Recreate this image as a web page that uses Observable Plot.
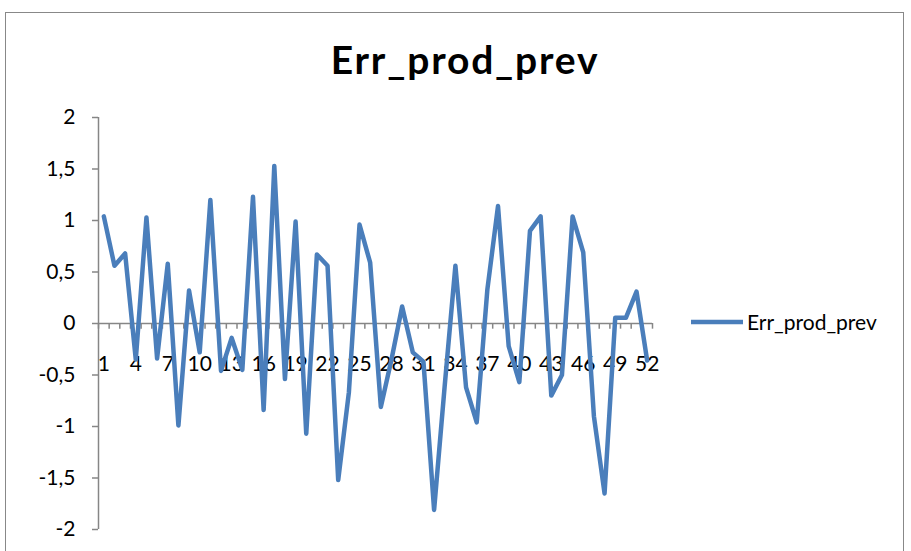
<!DOCTYPE html>
<html><head><meta charset="utf-8">
<script src="https://cdn.jsdelivr.net/npm/d3@7"></script>
<script src="https://cdn.jsdelivr.net/npm/@observablehq/plot@0.6"></script>
<style>
body{margin:0;background:#fff;font-family:Lato,"Open Sans",sans-serif;}
#frame{position:absolute;left:5px;top:12px;width:899px;height:545px;border:1.5px solid #888;box-sizing:border-box;}
#title{position:absolute;left:0;top:36px;width:930px;text-align:center;font-size:39px;letter-spacing:1.8px;font-weight:bold;color:#000;}
#chart{position:absolute;left:0;top:100px;}
#legend{position:absolute;left:690px;top:309px;font-size:21px;color:#000;display:flex;align-items:center;}
</style></head>
<body>
<div id="frame"></div>
<div id="title">Err_prod_prev</div>
<div id="chart"></div>
<div id="legend"><svg width="57" height="10"><line x1="1" y1="5" x2="53" y2="5" stroke="#4a7ebb" stroke-width="4.5"/></svg><span>Err_prod_prev</span></div>
<script>
const weeks = d3.range(1, 53);
const values = [1.04,0.56,0.68,-0.35,1.03,-0.34,0.58,-0.99,0.32,-0.28,
  1.2,-0.46,-0.14,-0.45,1.23,-0.84,1.53,-0.54,0.99,-1.07,
  0.67,0.56,-1.52,-0.67,0.96,0.59,-0.81,-0.35,0.165,-0.28,
  -0.37,-1.81,-0.6,0.56,-0.62,-0.96,0.33,1.14,-0.22,-0.57,
  0.9,1.04,-0.7,-0.5,1.04,0.69,-0.9,-1.65,0.055,0.055,
  0.31,-0.36];
const yTicks = [-2,-1.5,-1,-0.5,0,0.5,1,1.5,2];
const xLabels = weeks.filter(w => (w - 1) % 3 === 0);
const boundaries = d3.range(0.5, 53, 1);
const data = weeks.map((w, i) => ({week: w, value: values[i]}));

const axisColor = "#868686";
const fmt = d => String(d).replace(".", ",");
const chart = Plot.plot({
  width: 911,
  height: 440,
  marginLeft: 98,
  marginRight: 259,
  marginTop: 17,
  marginBottom: 11,
  style: {fontFamily: "Lato, 'Open Sans', sans-serif", fontSize: "21px", color: "#000", background: "transparent", overflow: "visible"},
  x: {domain: [0.5, 52.5], axis: null},
  y: {domain: [-2, 2], axis: null},
  marks: [
    Plot.axisY({ticks: yTicks, tickFormat: fmt, tickSize: 6, tickPadding: 17, label: null, stroke: axisColor, strokeWidth: 1.5, fontSize: 21}),
    Plot.ruleX([0.5], {stroke: axisColor, strokeWidth: 1.5}),
    Plot.ruleX(boundaries, {x: d => d, y1: 0, y2: -0.055, stroke: axisColor, strokeWidth: 1.5}),
    Plot.ruleY([0], {stroke: axisColor, strokeWidth: 1.5}),
    Plot.text(xLabels, {x: d => d, y: 0, text: d => String(d), dy: 41, fontSize: 21, fill: "#000"}),
    Plot.line(data, {x: "week", y: "value", stroke: "#4a7ebb", strokeWidth: 4.5, strokeLinejoin: "round"})
  ]
});
document.getElementById("chart").appendChild(chart);
</script>
</body></html>
